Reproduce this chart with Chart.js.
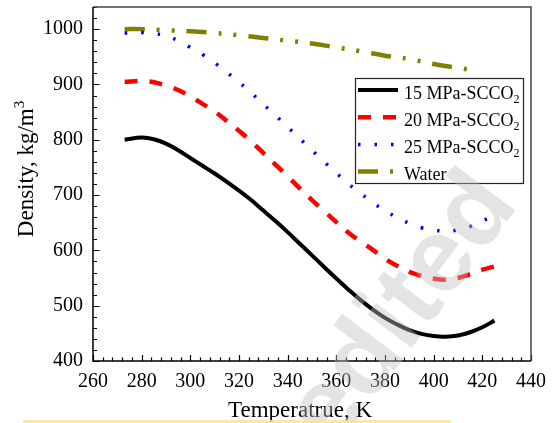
<!DOCTYPE html>
<html>
<head>
<meta charset="utf-8">
<script src="https://cdn.jsdelivr.net/npm/chart.js@4.4.0/dist/chart.umd.min.js"></script>
<style>
    html, body { margin: 0; padding: 0; background: #fff; }
    #wrap { width: 552px; height: 423px; }
</style>
</head>
<body>
<div id="wrap"><canvas id="densityChart" width="552" height="423"></canvas></div>
<script>
// temperatures (K) and densities (kg/m3)
const tempCO2 = [273, 280, 285, 290, 295, 300, 305, 310, 315, 320, 325, 330, 335, 340, 345, 350,
                 355, 360, 365, 370, 375, 380, 385, 390, 395, 400, 405, 410, 415, 420, 425];
const rho15 = [800, 804, 801, 793, 781, 767, 753, 739, 724, 708, 691, 672, 653, 633, 612, 591,
               570, 549, 529, 510, 493, 478, 466, 456, 449, 445, 444, 446, 452, 461, 473];
const rho20 = [905, 906, 904, 898, 890, 878, 865, 851, 834, 816, 797, 776, 755, 734, 712, 691,
               671, 651, 632, 616, 601, 585, 572, 561, 554, 549, 547, 550, 557, 565, 571];
const rho25 = [993, 994, 992, 988, 979, 967, 954, 939, 922, 904, 885, 864, 844, 823, 802, 781,
               760, 740, 720, 703, 686, 672, 659, 649, 641, 637, 635, 637, 643, 653, 664];
const tempWater = [273, 280, 290, 300, 310, 320, 330, 340, 350, 360, 370, 380, 390, 400, 410, 417];
const rhoWater = [1000, 1000, 998, 996, 993, 989, 984, 979, 974, 967, 960, 952, 946, 937, 930, 925];

const seriesLabels = ['15 MPa-SCCO₂', '20 MPa-SCCO₂', '25 MPa-SCCO₂', 'Water'];
const xTicks = [260, 280, 300, 320, 340, 360, 380, 400, 420, 440];
const yTicks = [400, 500, 600, 700, 800, 900, 1000];

const SERIF = '"Liberation Serif", "Times New Roman", serif';

function toPoints(xs, ys) {
    return xs.map((x, i) => ({ x: x, y: ys[i] }));
}

// inward ticks, frame, axis titles, boxed legend and the watermark
const decorPlugin = {
    id: 'decor',
    afterDraw(chart) {
        const ctx = chart.ctx;
        const a = chart.chartArea;
        const sx = chart.scales.x;
        const sy = chart.scales.y;
        ctx.save();

        // ticks
        ctx.strokeStyle = '#000';
        ctx.lineWidth = 1.2;
        ctx.beginPath();
        for (let t = 260; t <= 440; t += 4) {
            const px = Math.round(sx.getPixelForValue(t)) + 0.5;
            const len = (t % 20 === 0) ? 6 : 3.5;
            ctx.moveTo(px, a.bottom);
            ctx.lineTo(px, a.bottom - len);
        }
        for (let v = 400; v <= 1040; v += 20) {
            const py = Math.round(sy.getPixelForValue(v)) + 0.5;
            const len = (v % 100 === 0) ? 6.5 : 4;
            ctx.moveTo(a.left, py);
            ctx.lineTo(a.left + len, py);
        }
        ctx.stroke();

        // frame
        ctx.lineWidth = 1.5;
        ctx.strokeStyle = '#444';
        ctx.beginPath();
        ctx.moveTo(a.left, a.top);
        ctx.lineTo(a.right, a.top);
        ctx.lineTo(a.right, a.bottom);
        ctx.stroke();
        ctx.strokeStyle = '#000';
        ctx.beginPath();
        ctx.moveTo(a.left, a.top);
        ctx.lineTo(a.left, a.bottom);
        ctx.lineTo(a.right, a.bottom);
        ctx.stroke();

        // axis titles
        ctx.fillStyle = '#000';
        ctx.textBaseline = 'alphabetic';
        ctx.textAlign = 'center';
        ctx.font = '23px ' + SERIF;
        ctx.fillText('Temperatrue, K', 300, 417);

        ctx.save();
        ctx.translate(33, 169);
        ctx.rotate(-Math.PI / 2);
        ctx.textAlign = 'left';
        ctx.font = '23px ' + SERIF;
        const base = 'Density, kg/m';
        const w1 = ctx.measureText(base).width;
        ctx.font = '15px ' + SERIF;
        const w2 = ctx.measureText('3').width;
        const x0 = -(w1 + w2) / 2;
        ctx.font = '23px ' + SERIF;
        ctx.fillText(base, x0, 0);
        ctx.font = '15px ' + SERIF;
        ctx.fillText('3', x0 + w1, -9);
        ctx.restore();

        // legend box
        ctx.fillStyle = '#fff';
        ctx.fillRect(355, 78, 169, 106);
        ctx.lineWidth = 1.2;
        ctx.strokeStyle = '#222';
        ctx.strokeRect(355.5, 78.5, 168, 105);
        chart.data.datasets.forEach((ds, i) => {
            const y = 90 + i * 27.2;
            ctx.save();
            ctx.strokeStyle = ds.borderColor;
            ctx.lineWidth = ds.borderWidth;
            ctx.setLineDash(ds.borderDash || []);
            ctx.beginPath();
            ctx.moveTo(358, y);
            ctx.lineTo(398, y);
            ctx.stroke();
            ctx.restore();

            ctx.fillStyle = '#000';
            ctx.textAlign = 'left';
            let label = ds.label;
            const sub = label.endsWith('₂');
            if (sub) label = label.slice(0, -1);
            ctx.font = '18px ' + SERIF;
            ctx.fillText(label, 404, y + 8.5);
            if (sub) {
                const w = ctx.measureText(label).width;
                ctx.font = '12px ' + SERIF;
                ctx.fillText('2', 404 + w, y + 12.5);
            }
        });

        // watermark
        ctx.save();
        ctx.translate(405, 312);
        ctx.rotate(-53 * Math.PI / 180);
        ctx.font = 'bold 105px "Liberation Sans", Arial, sans-serif';
        ctx.textAlign = 'center';
        ctx.fillStyle = 'rgba(190,190,190,0.42)';
        ctx.fillText('edited', 0, 27);
        ctx.restore();

        // faint yellow strip at the bottom
        ctx.fillStyle = 'rgba(252,228,150,0.85)';
        ctx.fillRect(23, 420, 428, 3);

        ctx.restore();
    }
};

const ctx = document.getElementById('densityChart').getContext('2d');
new Chart(ctx, {
    type: 'line',
    data: {
        datasets: [
            {
                label: seriesLabels[0],
                data: toPoints(tempCO2, rho15),
                borderColor: '#000000',
                borderWidth: 4,
                borderDash: []
            },
            {
                label: seriesLabels[1],
                data: toPoints(tempCO2, rho20),
                borderColor: '#ff0000',
                borderWidth: 4.5,
                borderDash: [13, 12]
            },
            {
                label: seriesLabels[2],
                data: toPoints(tempCO2, rho25),
                borderColor: '#0000ff',
                borderWidth: 3.5,
                borderDash: [2.5, 14]
            },
            {
                label: seriesLabels[3],
                data: toPoints(tempWater, rhoWater),
                borderColor: '#808000',
                borderWidth: 4.5,
                borderDash: [20, 12, 3, 12, 3, 12]
            }
        ]
    },
    options: {
        responsive: false,
        animation: false,
        layout: { padding: { top: 7, right: 21, left: 0, bottom: 0 } },
        elements: {
            point: { radius: 0 },
            line: { tension: 0.4, fill: false }
        },
        plugins: {
            legend: { display: false },
            tooltip: { enabled: false }
        },
        scales: {
            x: {
                type: 'linear',
                min: 260,
                max: 440,
                afterBuildTicks: (s) => { s.ticks = xTicks.map(v => ({ value: v })); },
                afterFit: (s) => { s.height = 62; s.paddingLeft = 0; s.paddingRight = 0; },
                grid: { display: false, drawTicks: false },
                border: { display: false },
                ticks: {
                    color: '#000', font: { family: SERIF, size: 20 }, padding: 9,
                    maxRotation: 0, autoSkip: false, callback: (v) => String(v)
                }
            },
            y: {
                type: 'linear',
                min: 400,
                max: 1040,
                afterBuildTicks: (s) => { s.ticks = yTicks.map(v => ({ value: v })); },
                afterFit: (s) => { s.width = 93; s.paddingTop = 0; s.paddingBottom = 0; },
                grid: { display: false, drawTicks: false },
                border: { display: false },
                ticks: {
                    color: '#000', font: { family: SERIF, size: 20 }, padding: 10,
                    callback: (v) => String(v)
                }
            }
        }
    },
    plugins: [decorPlugin]
});
</script>
</body>
</html>
